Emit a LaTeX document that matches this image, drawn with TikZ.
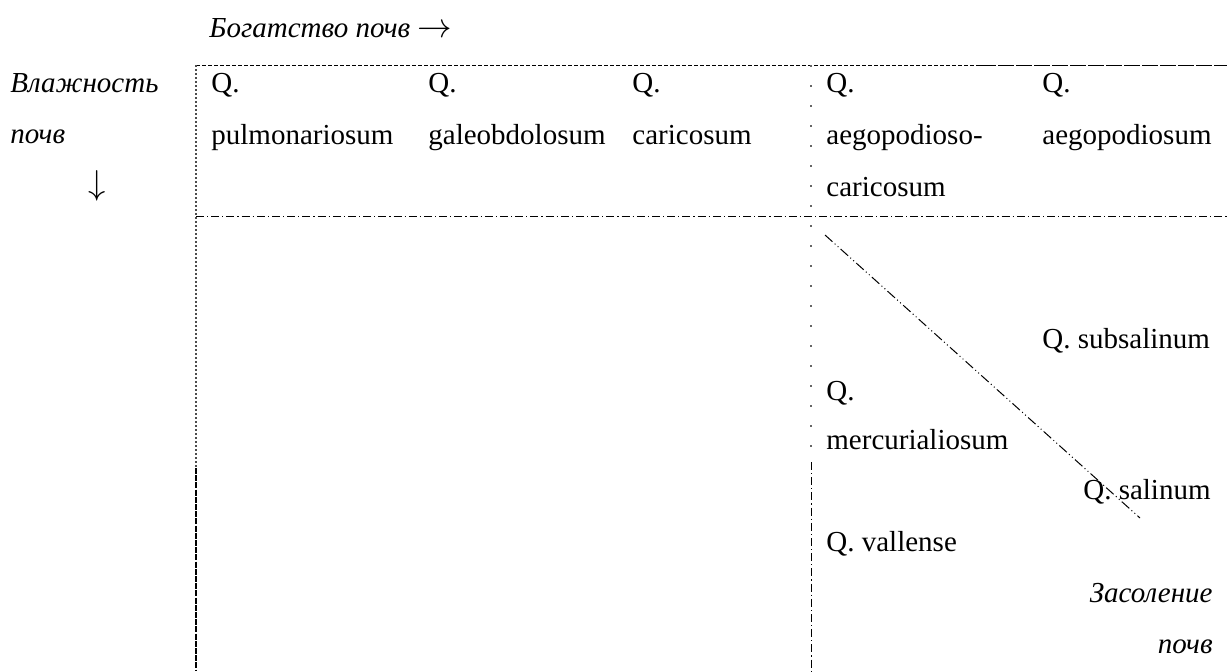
\documentclass[tikz,border=0pt]{standalone}
\usepackage{fontspec}
\setmainfont{Liberation Serif}
\begin{document}
\begin{tikzpicture}[x=0.5pt,y=-0.5pt,
  txt/.style={inner sep=0pt,anchor=base west,font=\fontsize{14.5}{17}\selectfont},
  txtr/.style={inner sep=0pt,anchor=base east,font=\fontsize{14.5}{17}\selectfont\itshape},
  lab/.style={txt,font=\fontsize{14.5}{17}\selectfont\itshape},
  fine/.style={line width=0.5pt,dash pattern=on 2pt off 1pt},
  longd/.style={line width=0.5pt,dash pattern=on 8pt off 1pt},
  dashdot/.style={line width=0.5pt,dash pattern=on 4pt off 1.5pt on 0.6pt off 1.5pt},
  dots/.style={line width=0.6pt,dash pattern=on 0.8pt off 1.2pt,draw=black!70},
  sparse/.style={line width=0.9pt,dash pattern=on 1pt off 9pt,draw=black!60},
  vdash/.style={line width=0.5pt,dash pattern=on 4pt off 1.5pt on 0.6pt off 1.5pt},
  thickd/.style={line width=1.4pt,dash pattern=on 3pt off 0.6pt},
  diag/.style={line width=0.5pt,dash pattern=on 5pt off 1.5pt on 0.5pt off 1.5pt on 0.5pt off 1.5pt}]
\useasboundingbox (0,0) rectangle (1227,671);
% axis labels
\node[lab] (rich) at (209,37) {Богатство почв {\fontsize{17.5}{20}\selectfont$\rightarrow$}};
\node[lab] (wet1) at (10,92) {Влажность};
\node[lab] (wet2) at (10,143) {почв};
\node[txt,anchor=base] (wet3) at (97,194) {\fontsize{18}{20}\selectfont$\downarrow$};
% grid lines
\coordinate (tl) at (196,65);
\coordinate (tm) at (980,65);
\coordinate (tr) at (1227,65);
\coordinate (rl) at (196,216);
\coordinate (rr) at (1227,216);
\coordinate (lm) at (196,468);
\coordinate (lb) at (196,671);
\coordinate (mt) at (811,65);
\coordinate (mm) at (811,462);
\coordinate (mb) at (811,671);
\draw[fine] (tl) -- (tm);
\draw[longd] (tm) -- (tr);
\draw[dashdot] (rl) -- (rr);
\draw[dots] (tl) -- (lm);
\draw[thickd] (lm) -- (lb);
\draw[sparse] (mt) -- (mm);
\draw[vdash] (mm) -- (mb);
% top row
\node[txt] (c1a) at (211,92) {Q.};
\node[txt] (c1b) at (211,144) {pulmonariosum};
\node[txt] (c2a) at (428,92) {Q.};
\node[txt] (c2b) at (428,144) {galeobdolosum};
\node[txt] (c3a) at (632,92) {Q.};
\node[txt] (c3b) at (632,144) {caricosum};
\node[txt] (c4a) at (826,92) {Q.};
\node[txt] (c4b) at (826,144) {aegopodioso-};
\node[txt] (c4c) at (826,196) {caricosum};
\node[txt] (c5a) at (1042,92) {Q.};
\node[txt] (c5b) at (1042,144) {aegopodiosum};
% lower region
\coordinate (d1) at (825,235);
\coordinate (d2) at (1140,518);
\draw[diag] (d1) -- (d2);
\node[txt] (sub) at (1042,348) {Q. subsalinum};
\node[txt] (mer1) at (826,400) {Q.};
\node[txt] (mer2) at (826,449) {mercurialiosum};
\node[txt,anchor=base east] (sal) at (1211,499) {Q. salinum};
\node[txt] (val) at (826,551) {Q. vallense};
\node[txtr] (zas1) at (1213,602) {Засоление};
\node[txtr] (zas2) at (1213,653) {почв};
\end{tikzpicture}
\end{document}
